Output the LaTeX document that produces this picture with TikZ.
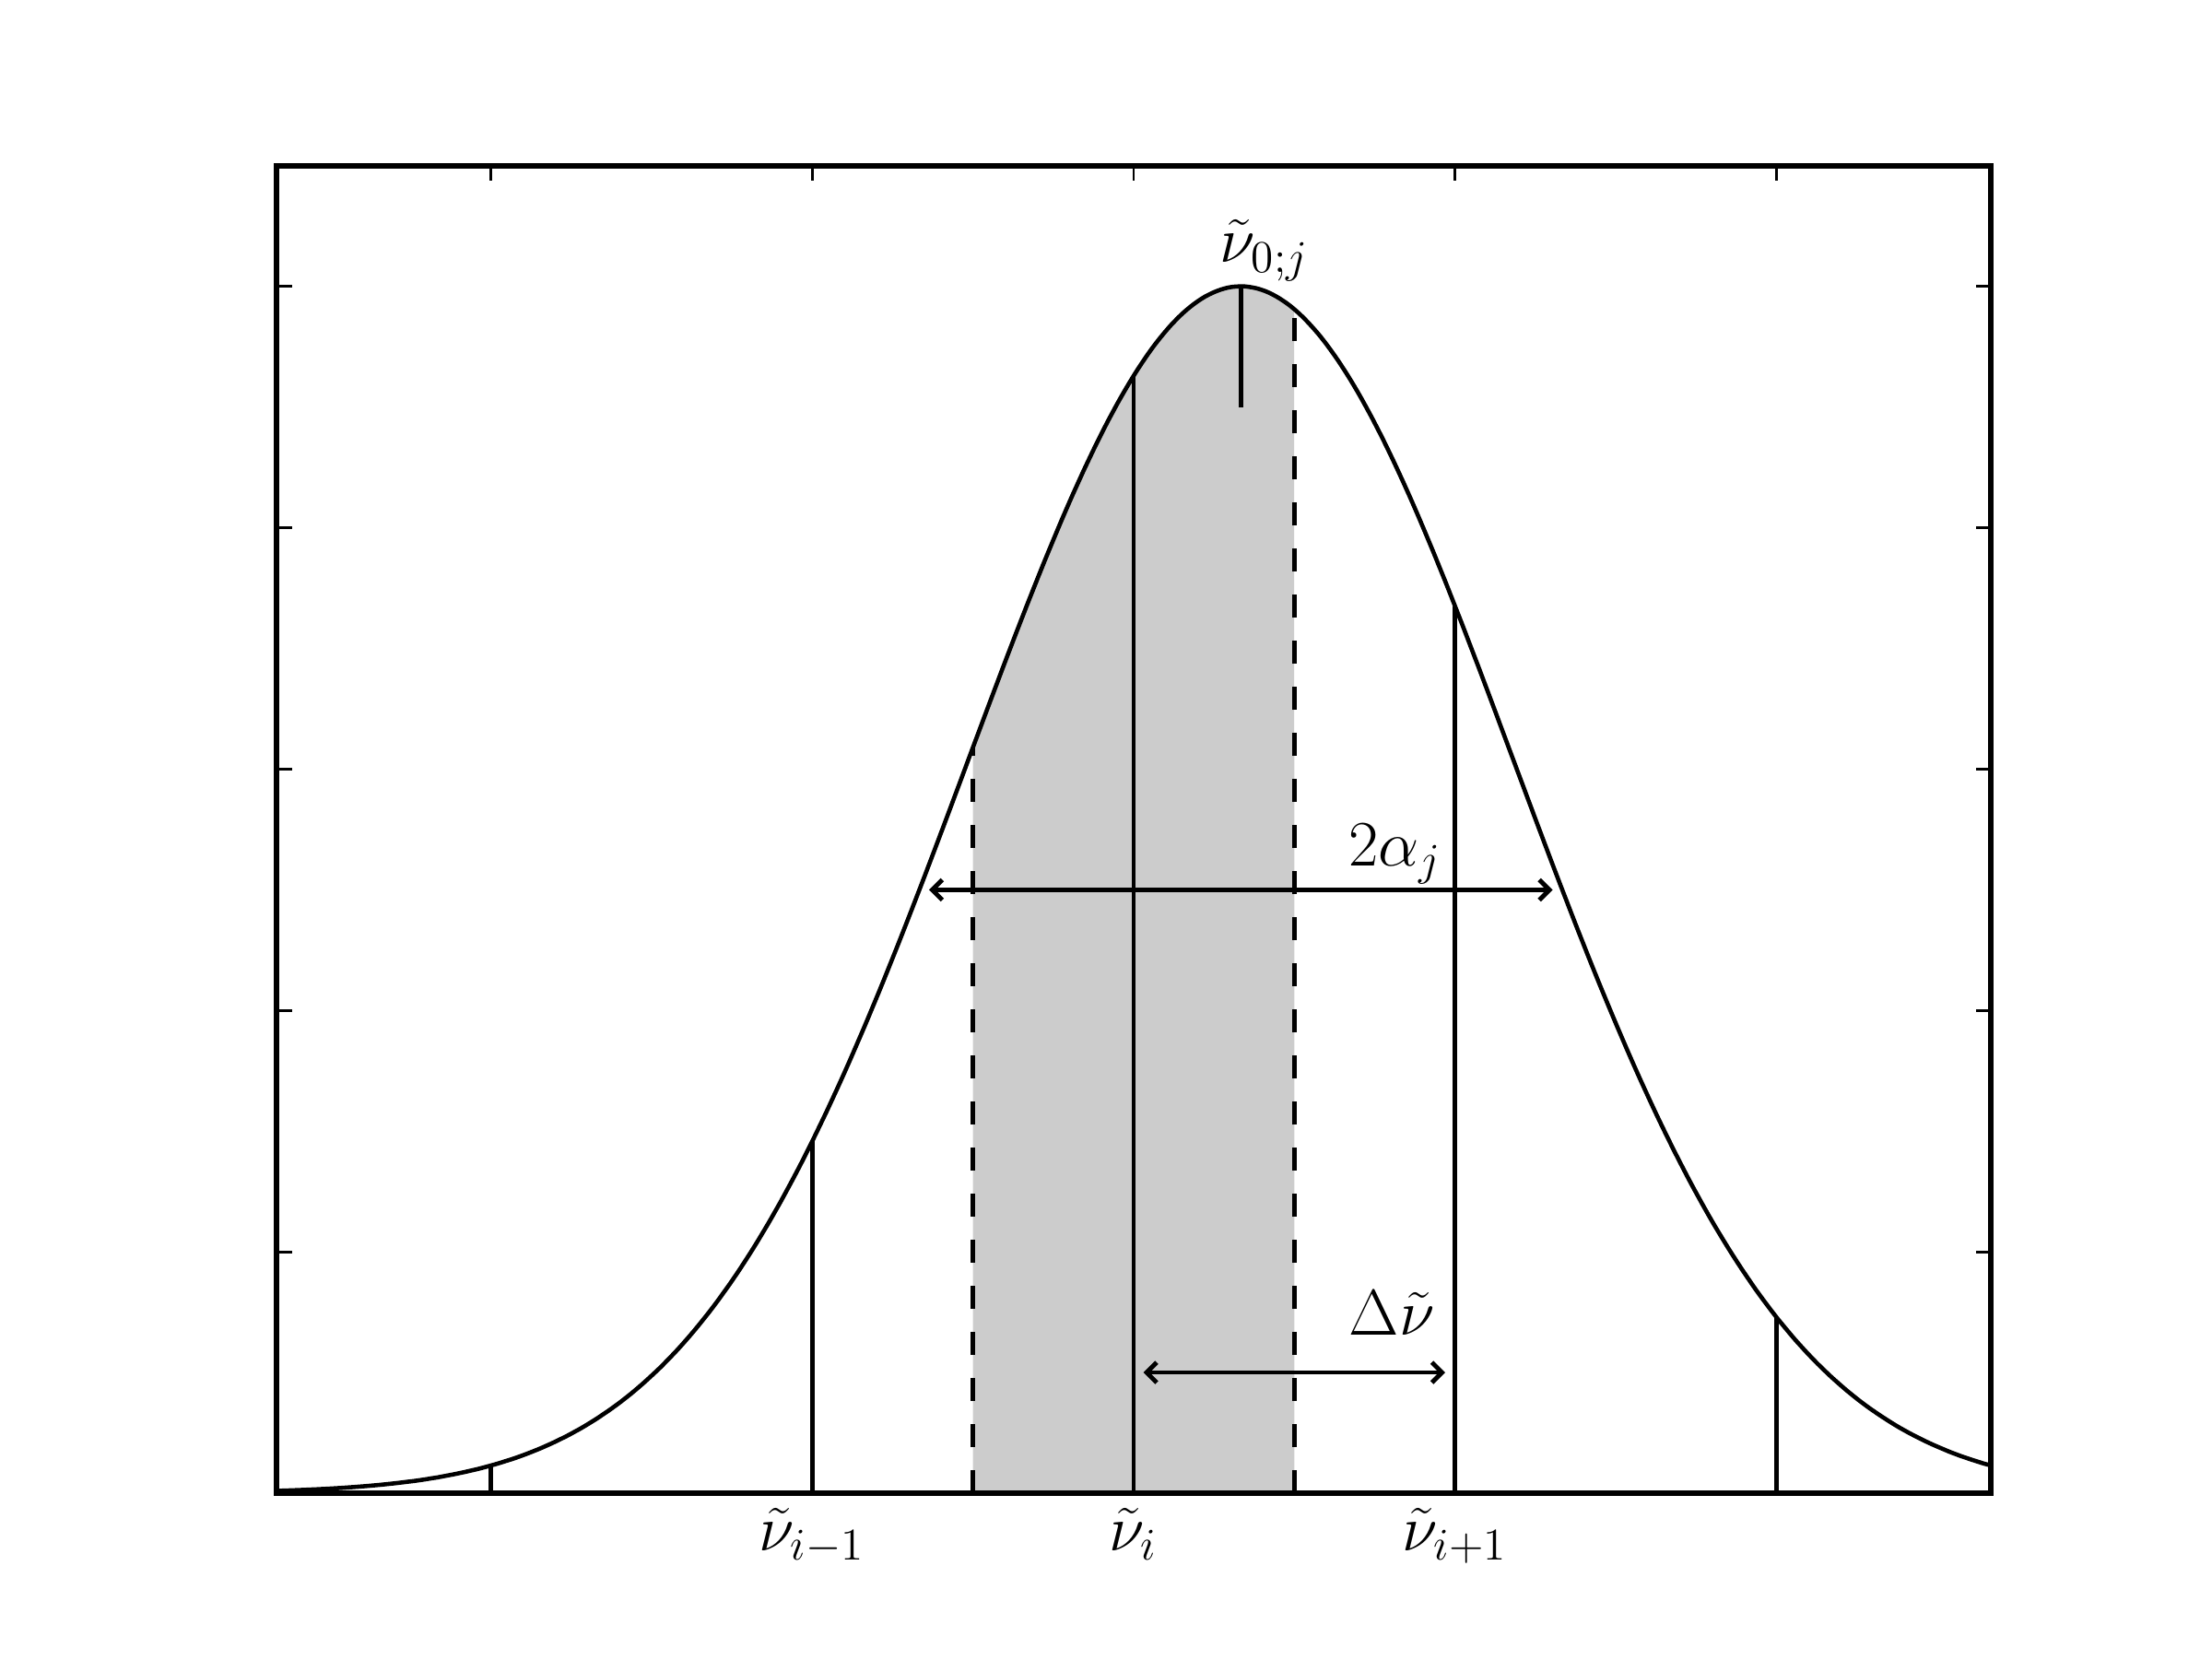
\documentclass[tikz,border=0pt]{standalone}
\usepackage{fix-cm}
\usetikzlibrary{arrows.meta}
\tikzset{
  curve/.style={line width=1.3pt, line join=round},
  gridln/.style={line width=1.3pt},
  dashln/.style={line width=1.3pt, dash pattern=on 0.25cm off 0.25cm},
  axisbox/.style={line width=1.5pt},
  tickln/.style={line width=0.8pt},
  dbl/.style={line width=1.3pt, {Straight Barb[length=1.1mm,width=2.2mm,line width=1.4pt]}-{Straight Barb[length=1.1mm,width=2.2mm,line width=1.4pt]}},
  lbl/.style={inner sep=0pt, font=\fontsize{20}{24}\selectfont},
}
\begin{document}
\begin{tikzpicture}
\useasboundingbox (0,0) rectangle (24,18);
\fill[white] (0,0) rectangle (24,18);
\begin{scope}[shift={(13.4625,1.8)}, x=3.4875cm, y=13.090909cm]
  % shaded bin
  \fill[black!20] (-0.833333,0) -- plot[domain=-0.833333:0.166667, samples=80] (\x,{exp(-0.693147*\x*\x)}) -- (0.166667,0) -- cycle;
  % gaussian
  \draw[curve] plot[domain=-3:2.333333, samples=300, smooth] (\x,{exp(-0.693147*\x*\x)});
  % grid lines
  \foreach \g in {-2.333333,-1.333333,-0.333333,0.666667,1.666667}
    \draw[gridln] (\g,0) -- (\g,{exp(-0.693147*\g*\g)});
  % dashed bin edges
  \foreach \g in {-0.833333,0.166667}
    \draw[dashln] (\g,0) -- (\g,{exp(-0.693147*\g*\g)});
  % peak marker
  \coordinate (pk) at (0,1);
  \coordinate (pkb) at (0,0.9);
  \draw[gridln] (pk) -- (pkb);
  % arrows
  \coordinate (aL) at (-0.97,0.5);
  \coordinate (aR) at (0.97,0.5);
  \draw[dbl] (aL) -- (aR);
  \coordinate (dL) at (-0.303,0.1);
  \coordinate (dR) at (0.636,0.1);
  \draw[dbl] (dL) -- (dR);
  % labels
  \node[lbl, anchor=base west] (lpk) at (-0.066,1.02) {$\tilde{\nu}_{0;j}$};
  \node[lbl, anchor=base west] (lal) at (0.333,0.52) {$2\alpha_j$};
  \node[lbl, anchor=base west] (ldn) at (0.335,0.131) {$\Delta\tilde{\nu}$};
  \node[lbl, anchor=base] (lm) at (-1.333333,0) [yshift=-0.62cm] {$\tilde{\nu}_{i-1}$};
  \node[lbl, anchor=base] (l0) at (-0.333333,0) [yshift=-0.62cm] {$\tilde{\nu}_{i}$};
  \node[lbl, anchor=base] (lp) at (0.666667,0) [yshift=-0.62cm] {$\tilde{\nu}_{i+1}$};
  % ticks
  \foreach \g in {-2.333333,-1.333333,-0.333333,0.666667,1.666667} {
    \draw[tickln] (\g,0) -- ++(0,0.165cm);
    \draw[tickln] (\g,1.1) -- ++(0,-0.165cm);
  }
  \foreach \h in {0.2,0.4,0.6,0.8,1.0} {
    \draw[tickln] (-3,\h) -- ++(0.165cm,0);
    \draw[tickln] (2.333333,\h) -- ++(-0.165cm,0);
  }
  % axes box
  \draw[axisbox] (-3,0) rectangle (2.333333,1.1);
\end{scope}
\end{tikzpicture}
\end{document}
